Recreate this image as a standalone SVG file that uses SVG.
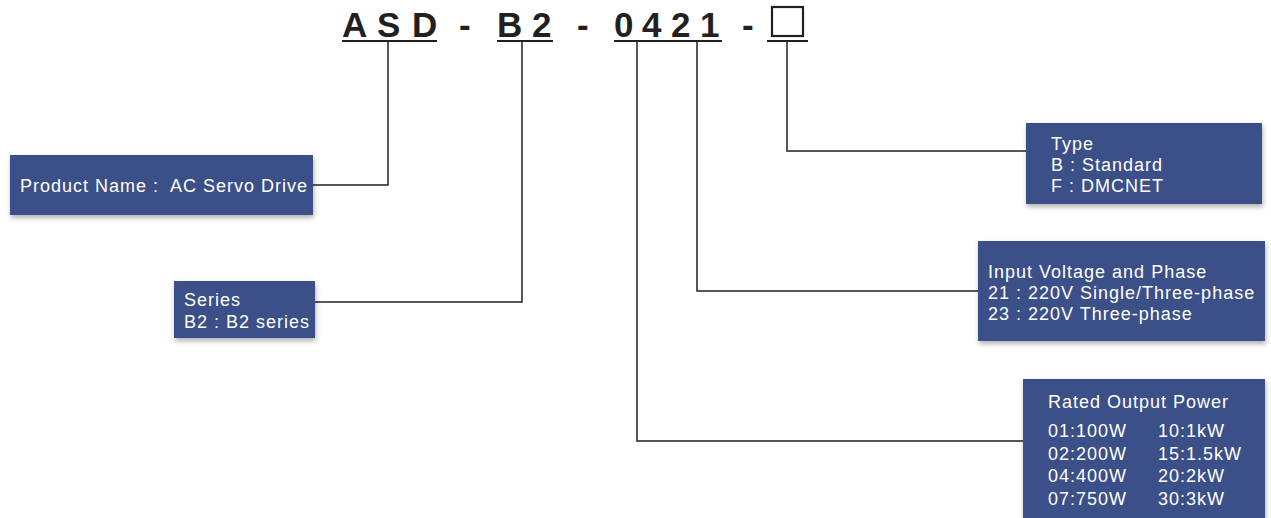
<svg xmlns="http://www.w3.org/2000/svg" width="1271" height="518" viewBox="0 0 1271 518">
<defs>
<filter id="sh" x="-5%" y="-10%" width="110%" height="125%">
<feDropShadow dx="1" dy="3" stdDeviation="2.5" flood-color="#000" flood-opacity="0.3"/>
</filter>
</defs>
<style>
.box{fill:#3a5089;filter:url(#sh)}
.t{font-family:"Liberation Sans",Arial,sans-serif;font-size:18px;fill:#fff;letter-spacing:1px}
.title{font-family:"Liberation Sans",Arial,sans-serif;font-size:35px;font-weight:bold;fill:#231f20}
.ln{stroke:#231f20;stroke-width:1.5;fill:none}
.ul{stroke:#231f20;stroke-width:2;fill:none}
</style>
<rect width="1271" height="518" fill="#fff"/>
<g id="title">
<text class="title" x="342 377 412" y="37">ASD</text>
<text class="title" x="459" y="37">-</text>
<text class="title" x="497 532" y="37">B2</text>
<text class="title" x="577" y="37">-</text>
<text class="title" x="614 642 671 700" y="37">0421</text>
<text class="title" x="742" y="37">-</text>
<rect x="772" y="7" width="31" height="29" fill="none" stroke="#231f20" stroke-width="2.2"/>
<path class="ul" d="M342 41H437M497 41H553M614 41H722M767 41H808"/>
</g>
<g id="connectors">
<path class="ln" d="M388 41V185H313"/>
<path class="ln" d="M522 41V302H315"/>
<path class="ln" d="M637 41V441H1023"/>
<path class="ln" d="M697 41V291H978"/>
<path class="ln" d="M787 41V151H1026"/>
</g>
<g id="product">
<rect class="box" x="10" y="155" width="303" height="60"/>
<text class="t" x="20" y="192" xml:space="preserve">Product Name :  AC Servo Drive</text>
</g>
<g id="series">
<rect class="box" x="174" y="281" width="141" height="57"/>
<text class="t" x="184" y="306">Series</text>
<text class="t" x="184" y="328">B2 : B2 series</text>
</g>
<g id="type">
<rect class="box" x="1026" y="123" width="236" height="81"/>
<text class="t" x="1051" y="150">Type</text>
<text class="t" x="1051" y="171">B : Standard</text>
<text class="t" x="1051" y="192">F : DMCNET</text>
</g>
<g id="voltage">
<rect class="box" x="978" y="241" width="287" height="100"/>
<text class="t" x="988" y="278">Input Voltage and Phase</text>
<text class="t" x="988" y="299">21 : 220V Single/Three-phase</text>
<text class="t" x="988" y="320">23 : 220V Three-phase</text>
</g>
<g id="power">
<rect class="box" x="1023" y="379" width="242" height="145"/>
<text class="t" x="1048" y="408">Rated Output Power</text>
<text class="t" x="1048" y="437">01:100W</text>
<text class="t" x="1158" y="437">10:1kW</text>
<text class="t" x="1048" y="460">02:200W</text>
<text class="t" x="1158" y="460">15:1.5kW</text>
<text class="t" x="1048" y="482">04:400W</text>
<text class="t" x="1158" y="482">20:2kW</text>
<text class="t" x="1048" y="505">07:750W</text>
<text class="t" x="1158" y="505">30:3kW</text>
</g>
</svg>
